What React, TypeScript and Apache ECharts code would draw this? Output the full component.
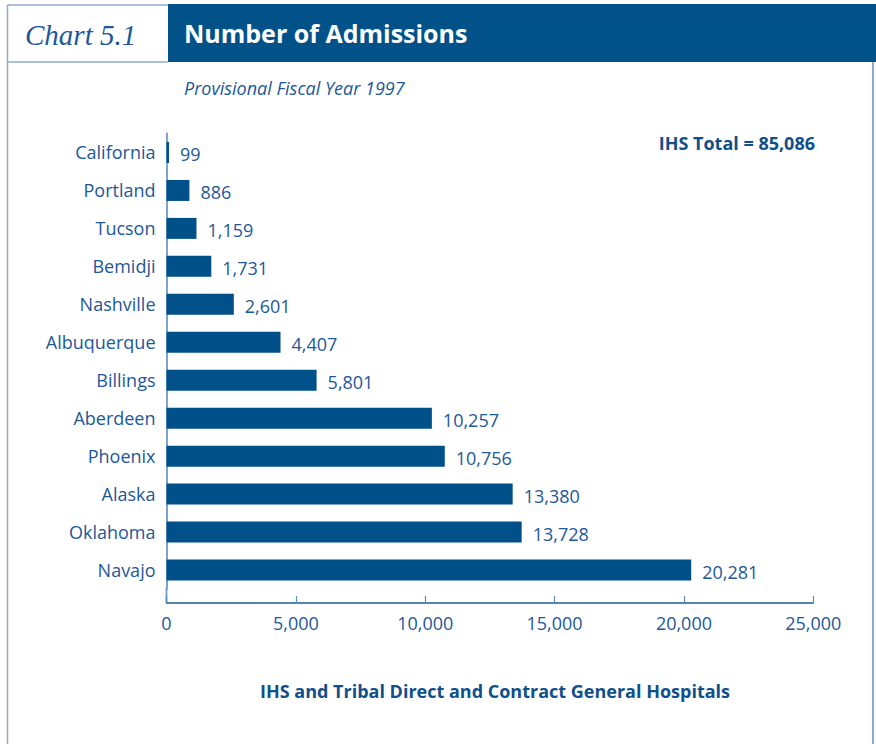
import React, { useEffect, useRef } from "react";
import * as echarts from "echarts";

const categories = [
  "California", "Portland", "Tucson", "Bemidji", "Nashville", "Albuquerque",
  "Billings", "Aberdeen", "Phoenix", "Alaska", "Oklahoma", "Navajo",
];
const admissions = [99, 886, 1159, 1731, 2601, 4407, 5801, 10257, 10756, 13380, 13728, 20281];
const xTicks = { min: 0, max: 25000, interval: 5000 };
const titleText = "Number of Admissions";
const chartNo = "Chart 5.1";
const subtitle = "Provisional Fiscal Year 1997";
const totalText = "IHS Total = 85,086";
const xAxisTitle = "IHS and Tribal Direct and Contract General Hospitals";

const BLUE = "#00508a";
const TEXT = "#1d5898";
const FONT = "'Open Sans', 'Noto Sans', sans-serif";

export default function App() {
  const ref = useRef<HTMLDivElement>(null);
  useEffect(() => {
    if (!ref.current) return;
    const chart = echarts.init(ref.current, null, { renderer: "svg" });
    chart.setOption({
      animation: false,
      backgroundColor: "#ffffff",
      textStyle: { fontFamily: FONT },
      grid: { left: 166.5, right: 62.7, top: 133.5, height: 455.5, containLabel: false },
      xAxis: {
        type: "value",
        min: xTicks.min,
        max: xTicks.max,
        interval: xTicks.interval,
        offset: 14,
        axisLine: { show: true, lineStyle: { color: "#1f5b92", width: 1.5 } },
        axisTick: { show: true, inside: true, length: 7, lineStyle: { color: "#5b8cbb", width: 1.2 } },
        splitLine: { show: false },
        axisLabel: {
          color: TEXT,
          fontSize: 18,
          fontFamily: FONT,
          margin: 11,
          formatter: (v: number) => v.toLocaleString("en-US"),
        },
      },
      yAxis: {
        type: "category",
        data: categories,
        inverse: true,
        axisLine: { show: true, lineStyle: { color: "#7ea5c9", width: 2 } },
        axisTick: { show: false },
        axisLabel: { color: TEXT, fontSize: 18, fontFamily: FONT, margin: 11 },
      },
      series: [
        {
          type: "bar",
          data: admissions,
          barWidth: 21,
          itemStyle: { color: BLUE },
          label: {
            show: true,
            position: "right",
            distance: 11,
            color: TEXT,
            fontSize: 18,
            fontFamily: FONT,
            offset: [0, 2],
            formatter: (p: any) => Number(p.value).toLocaleString("en-US"),
          },
        },
      ],
      graphic: [
        { type: "line", shape: { x1: 166.5, y1: 588, x2: 166.5, y2: 603 }, style: { stroke: "#7ea5c9", lineWidth: 2 } },
        { type: "line", shape: { x1: 7.5, y1: 5, x2: 7.5, y2: 744 }, style: { stroke: "#8eabc8", lineWidth: 1.5 } },
        { type: "line", shape: { x1: 7.5, y1: 5, x2: 168, y2: 5 }, style: { stroke: "#8eabc8", lineWidth: 1.5 } },
        { type: "line", shape: { x1: 7.5, y1: 62, x2: 168, y2: 62 }, style: { stroke: "#8eabc8", lineWidth: 1.5 } },
        { type: "line", shape: { x1: 873, y1: 62, x2: 873, y2: 744 }, style: { stroke: "#8eabc8", lineWidth: 2 } },
        { type: "rect", shape: { x: 168, y: 4, width: 708, height: 58 }, style: { fill: "#02528a" } },
        {
          type: "text", x: 184, y: 33,
          style: { text: titleText, fill: "#ffffff", font: "bold 25px " + FONT, verticalAlign: "middle" },
        },
        {
          type: "text", x: 25, y: 35,
          style: { text: chartNo, fill: TEXT, font: "italic 29px 'Liberation Serif', serif", verticalAlign: "middle" },
        },
        {
          type: "text", x: 184, y: 88,
          style: { text: subtitle, fill: TEXT, font: "italic 18px " + FONT, verticalAlign: "middle" },
        },
        {
          type: "text", x: 815, y: 143,
          style: { text: totalText, fill: "#0f4f8a", font: "bold 18px " + FONT, align: "right", verticalAlign: "middle" },
        },
        {
          type: "text", x: 495, y: 691,
          style: { text: xAxisTitle, fill: "#0f4f8a", font: "bold 18px " + FONT, align: "center", verticalAlign: "middle" },
        },
      ],
    });
    return () => chart.dispose();
  }, []);
  return (
    <div
      ref={ref}
      style={{ position: "absolute", left: 0, top: 0, width: 876, height: 744 }}
    />
  );
}
